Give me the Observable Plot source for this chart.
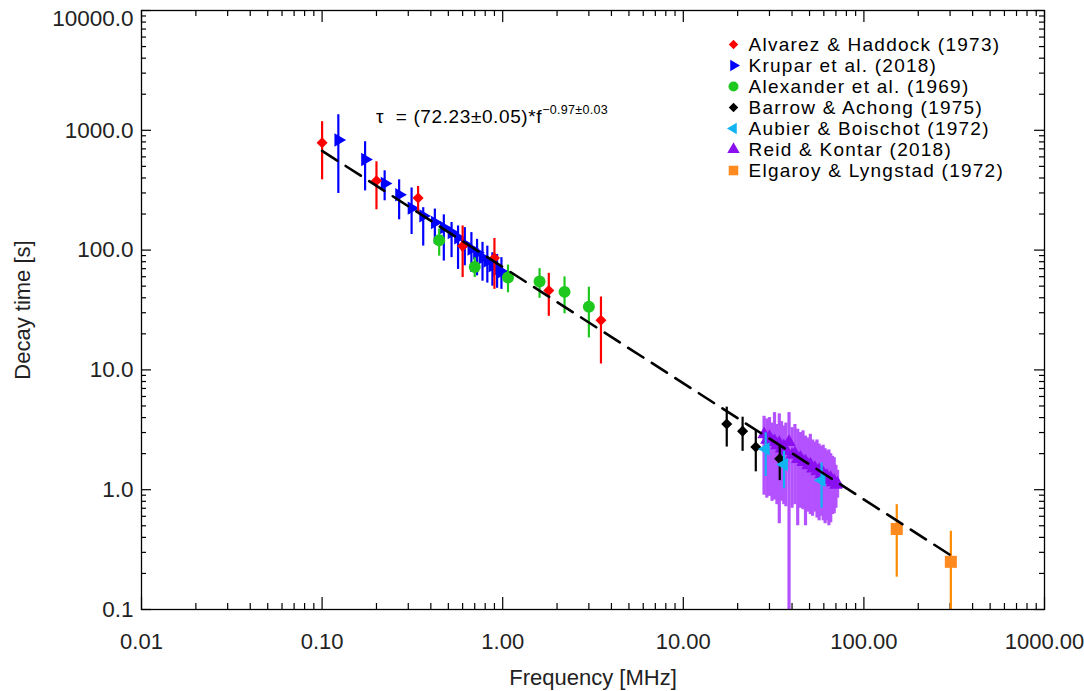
<!DOCTYPE html>
<html>
<head>
<meta charset="utf-8">
<script src="https://cdn.jsdelivr.net/npm/d3@7"></script>
<script src="https://cdn.jsdelivr.net/npm/@observablehq/plot@0.6"></script>
<style>
  html, body { margin: 0; padding: 0; background: #fff; }
  #chart { width: 1084px; height: 691px; }
</style>
</head>
<body>
<div id="chart"></div>
<script>
// ---------- data ----------
const alvarezFreq = [0.1, 0.2, 0.34, 0.6, 0.9, 1.8, 3.5];
const alvarezTau  = [787, 379, 272, 108, 86, 46, 26];
const alvarezLo   = [386, 217, 206, 59, 47, 28, 11.2];
const alvarezHi   = [1180, 546, 340, 159, 125, 64, 40.6];

const kruparFreq = [0.123, 0.173, 0.222, 0.267, 0.313, 0.363, 0.421, 0.472, 0.521, 0.566, 0.617, 0.671, 0.721, 0.773, 0.822, 0.877, 0.931, 0.984];
const kruparTau  = [830, 570, 360, 290, 224, 193, 170, 154, 140, 127, 112, 102, 95, 86.5, 81, 74, 69, 66];
const kruparLo   = [297, 312, 258, 179, 135, 108, 112, 81, 86.5, 69, 74, 65, 61, 55, 53, 50, 48, 47];
const kruparHi   = [1349, 803, 459, 386, 330, 226, 220, 197, 170, 159, 154, 140, 123, 116, 108, 95, 92, 86.5];

const alexanderFreq = [0.445, 0.7, 1.07, 1.6, 2.2, 3.0];
const alexanderTau  = [121, 72.4, 59, 54.6, 44.8, 33.7];
const alexanderLo   = [89, 59, 44, 39.6, 29.4, 18.5];
const alexanderHi   = [150, 86.5, 75, 70, 59.7, 49];

const barrowFreq = [17.4, 21.3, 25.2, 34.2];
const barrowTau  = [3.54, 3.08, 2.27, 1.81];
const barrowLo   = [2.27, 2.09, 1.41, 1.19];
const barrowHi   = [4.89, 4.03, 3.12, 2.34];

const aubierFreq = [28.6, 36.1, 58.3];
const aubierTau  = [2.19, 1.62, 1.2];
const aubierLo   = [1.29, 1.02, 0.70];
const aubierHi   = [2.98, 2.09, 1.67];

const reidFreq = [28, 29, 30, 31, 32, 33, 34, 35, 36, 37, 38.5, 40, 41.5, 43, 44.5, 46, 47.5, 49, 50.5, 52, 53.5, 55, 56.5, 58, 59.5, 61, 62.5, 64, 65.5, 67, 68.5, 70, 71.5];
const reidTau  = [2.9, 2.6, 2.75, 2.5, 2.55, 2.35, 2.45, 2.2, 2.3, 2.1, 2.5, 1.95, 2.0, 1.8, 1.85, 1.7, 1.72, 1.6, 1.62, 1.5, 1.52, 1.42, 1.45, 1.35, 1.37, 1.28, 1.3, 1.2, 1.25, 1.15, 1.18, 1.1, 1.12];
const reidLo   = [0.9, 0.85, 0.88, 0.8, 0.82, 0.75, 0.52, 0.8, 0.75, 0.72, 0.05, 0.7, 0.75, 0.5, 0.7, 0.68, 0.5, 0.65, 0.62, 0.6, 0.65, 0.58, 0.55, 0.6, 0.55, 0.52, 0.55, 0.5, 0.53, 0.62, 0.63, 0.7, 0.85];
const reidHi   = [4.1, 3.9, 4.0, 3.6, 4.4, 3.5, 4.3, 3.7, 3.4, 3.6, 4.4, 3.3, 3.5, 3.2, 3.0, 3.1, 2.8, 2.7, 2.9, 2.6, 2.5, 2.6, 2.4, 2.3, 2.35, 2.2, 2.1, 2.15, 2.0, 1.9, 1.85, 1.6, 1.45];

const elgaroyFreq = [152, 303];
const elgaroyTau  = [0.47, 0.25];
const elgaroyLo   = [0.186, 0.05];
const elgaroyHi   = [0.75, 0.45];

// power-law fit tau = A * f^k, drawn between these frequencies
const fitA = 72.23, fitK = -0.97;
const fitFreq = [0.1, 310];

const xMajor = [0.01, 0.1, 1, 10, 100, 1000];
const yMajor = [0.1, 1, 10, 100, 1000, 10000];

const seriesNames = ["Alvarez & Haddock (1973)", "Krupar et al. (2018)", "Alexander et al. (1969)",
  "Barrow & Achong (1975)", "Aubier & Boischot (1972)", "Reid & Kontar (2018)", "Elgaroy & Lyngstad (1972)"];

// ---------- build tables ----------
const rows = (f, t, lo, hi) => f.map((v, i) => ({f: v, tau: t[i], lo: lo[i], hi: hi[i]}));
const alvarez = rows(alvarezFreq, alvarezTau, alvarezLo, alvarezHi);
const krupar = rows(kruparFreq, kruparTau, kruparLo, kruparHi);
const alexander = rows(alexanderFreq, alexanderTau, alexanderLo, alexanderHi);
const barrow = rows(barrowFreq, barrowTau, barrowLo, barrowHi);
const aubier = rows(aubierFreq, aubierTau, aubierLo, aubierHi);
const reid = rows(reidFreq, reidTau, reidLo, reidHi);
const elgaroy = rows(elgaroyFreq, elgaroyTau, elgaroyLo, elgaroyHi);
const fit = fitFreq.map(f => ({f, tau: fitA * Math.pow(f, fitK)}));

const minorOf = majors => majors.slice(0, -1).flatMap(m => d3.range(2, 10).map(k => k * m));
const xMinor = minorOf(xMajor);
const yMinor = minorOf(yMajor);

// ---------- styles ----------
const W = 1084, H = 691;
const mL = 141, mR = 40, mT = 10, mB = 82;
const fw = W - mL - mR, fh = H - mT - mB;

const styles = [
  {color: "#ff0000", bar: "#ff0000", symbol: "diamond2", rotate: 0, r: 5, lr: 4.3, bw: 2.2},
  {color: "#0000ff", bar: "#0000ff", symbol: "triangle", rotate: 90, r: 5, lr: 4.2, bw: 2.2},
  {color: "#1ec81e", bar: "#1ec81e", symbol: "circle", rotate: 0, r: 6, lr: 5, bw: 2.2},
  {color: "#000000", bar: "#000000", symbol: "diamond2", rotate: 0, r: 5, lr: 4.3, bw: 2.2},
  {color: "#10b4f0", bar: "#10b4f0", symbol: "triangle", rotate: -90, r: 5, lr: 4.2, bw: 2.2},
  {color: "#8a10f0", bar: "#b452ff", symbol: "triangle", rotate: 0, r: 5, lr: 4.6, bw: 3.2},
  {color: "#ff8a20", bar: "#ff8a00", symbol: "square", rotate: 0, r: 6.8, lr: 5.4, bw: 2.2}
];

function series(data, s) {
  return [
    Plot.ruleX(data, {x: "f", y1: "lo", y2: "hi", stroke: s.bar, strokeWidth: s.bw, clip: true}),
    Plot.dot(data, {x: "f", y: "tau", symbol: () => s.symbol, fill: s.color, r: s.r, rotate: s.rotate, stroke: "none", clip: true})
  ];
}

const legendMarks = seriesNames.flatMap((name, i) => {
  const s = styles[i];
  const dy = 34 + 21 * i;
  return [
    Plot.dot([name], {frameAnchor: "top-left", dx: 592, dy, symbol: () => s.symbol, fill: s.color, r: s.lr, rotate: s.rotate, stroke: "none"}),
    Plot.text([name], {frameAnchor: "top-left", dx: 607, dy, text: d => d, textAnchor: "start", lineAnchor: "middle", fill: "#000", fontSize: 19})
  ];
});

const chart = Plot.plot({
  width: W, height: H,
  marginLeft: mL, marginRight: mR, marginTop: mT, marginBottom: mB,
  style: {fontFamily: "'Liberation Sans', Arial, Helvetica, sans-serif", fontSize: "22px", color: "#222", background: "#fff"},
  x: {type: "log", domain: [0.01, 1000]},
  y: {type: "log", domain: [0.1, 10000]},
  marks: [
    // inward ticks on all four sides
    Plot.ruleX(xMajor, {x: d => d, insetTop: fh - 12, stroke: "#000", strokeWidth: 1.2}),
    Plot.ruleX(xMajor, {x: d => d, insetBottom: fh - 12, stroke: "#000", strokeWidth: 1.2}),
    Plot.ruleX(xMinor, {x: d => d, insetTop: fh - 6, stroke: "#000", strokeWidth: 1.2}),
    Plot.ruleX(xMinor, {x: d => d, insetBottom: fh - 6, stroke: "#000", strokeWidth: 1.2}),
    Plot.ruleY(yMajor, {y: d => d, insetRight: fw - 10, stroke: "#000", strokeWidth: 1.2}),
    Plot.ruleY(yMajor, {y: d => d, insetLeft: fw - 10, stroke: "#000", strokeWidth: 1.2}),
    Plot.ruleY(yMinor, {y: d => d, insetRight: fw - 5, stroke: "#000", strokeWidth: 1.2}),
    Plot.ruleY(yMinor, {y: d => d, insetLeft: fw - 5, stroke: "#000", strokeWidth: 1.2}),
    Plot.axisX({ticks: xMajor, tickFormat: d => d.toFixed(2), tickSize: 0, tickPadding: 24, label: null}),
    Plot.axisY({ticks: yMajor.slice(0, -1), tickFormat: d => d.toFixed(1), tickSize: 0, tickPadding: 8, label: null, fontSize: 22.5}),
    Plot.axisY({ticks: yMajor.slice(-1), tickFormat: d => d.toFixed(1), tickSize: 0, tickPadding: 8, label: null, fontSize: 22.5, dy: 8}),
    Plot.text(["Frequency [MHz]"], {frameAnchor: "bottom", dy: 68, text: d => d, lineAnchor: "middle", textAnchor: "middle", fontSize: 22, fill: "#222"}),
    Plot.text(["Decay time [s]"], {frameAnchor: "left", dx: -119, rotate: -90, text: d => d, lineAnchor: "middle", textAnchor: "middle", fontSize: 22, fill: "#222"}),
    // data
    ...series(reid, styles[5]),
    ...series(krupar, styles[1]),
    ...series(alvarez, styles[0]),
    ...series(alexander, styles[2]),
    ...series(barrow, styles[3]),
    ...series(aubier, styles[4]),
    ...series(elgaroy, styles[6]),
    Plot.line(fit, {x: "f", y: "tau", stroke: "#000", strokeWidth: 2.6, strokeDasharray: "18,10"}),
    ...legendMarks,
    Plot.frame({stroke: "#000", strokeWidth: 1.3})
  ]
});

// widen the legend lettering like the reference
const svg = d3.select(chart);
svg.selectAll("text").filter(function() { return seriesNames.includes(this.textContent); })
  .style("letter-spacing", "1.25px");

// formula annotation with a superscript exponent
const eq = svg.append("text")
  .attr("x", 376).attr("y", 123)
  .attr("text-anchor", "start")
  .attr("fill", "#000")
  .style("font-family", "'Liberation Sans', Arial, sans-serif")
  .style("font-size", "19px")
  .style("letter-spacing", "0.6px");
eq.append("tspan").text("τ\u00a0 = (" + fitA.toFixed(2) + "±0.05)*f");
eq.append("tspan").attr("dy", -9).style("font-size", "12.5px").style("letter-spacing", "0.3px").text("−" + Math.abs(fitK).toFixed(2) + "±0.03");

document.getElementById("chart").appendChild(chart);
</script>
</body>
</html>
